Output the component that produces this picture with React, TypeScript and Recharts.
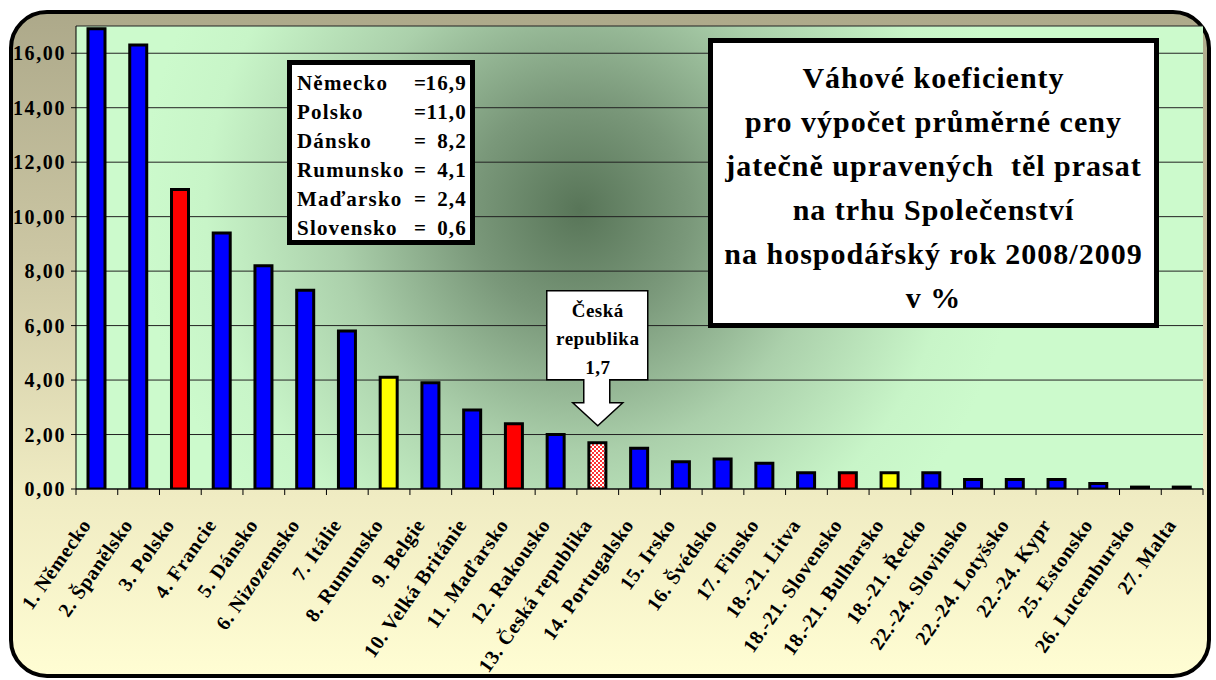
import { BarChart, Bar, Cell, XAxis, YAxis, CartesianGrid, ReferenceDot } from "recharts";

const countries = [
  "1. Německo", "2. Španělsko", "3. Polsko", "4. Francie", "5. Dánsko", "6. Nizozemsko",
  "7. Itálie", "8. Rumunsko", "9. Belgie", "10. Velká Británie", "11. Maďarsko", "12. Rakousko",
  "13. Česká republika", "14. Portugalsko", "15. Irsko", "16. Švédsko", "17. Finsko",
  "18.-21. Litva", "18.-21. Slovensko", "18.-21. Bulharsko", "18.-21. Řecko",
  "22.-24. Slovinsko", "22.-24. Lotyšsko", "22.-24. Kypr", "25. Estonsko",
  "26. Lucembursko", "27. Malta"
];
const weights = [
  16.9, 16.3, 11.0, 9.4, 8.2, 7.3, 5.8, 4.1, 3.9, 2.9, 2.4, 2.0, 1.7, 1.5, 1.0, 1.1, 0.95,
  0.6, 0.6, 0.6, 0.6, 0.35, 0.35, 0.35, 0.2, 0.07, 0.07
];
const yTicks = [0, 2, 4, 6, 8, 10, 12, 14, 16];

const boxNames = ["Německo", "Polsko", "Dánsko", "Rumunsko", "Maďarsko", "Slovensko"];
const boxValues = ["16,9", "11,0", "8,2", "4,1", "2,4", "0,6"];

const titleLines = [
  "Váhové koeficienty",
  "pro výpočet průměrné ceny",
  "jatečně upravených  těl prasat",
  "na trhu Společenství",
  "na hospodářský rok 2008/2009",
  "v %"
];
const calloutLines = ["Česká", "republika", "1,7"];
const czIndex = 12;

// bar colours: blue default, red/yellow highlights, pattern for CZ
const barColors = countries.map((c) => {
  if (c.includes("Polsko") || c.includes("Maďarsko") || c.includes("Slovensko")) return "#FF0000";
  if (c.includes("Rumunsko") || c.includes("Bulharsko")) return "#FFFF00";
  if (c.includes("Česká")) return "url(#czPattern)";
  return "#0000FF";
});

const data = countries.map((name, i) => ({ name, value: weights[i] }));

const FONT = '"Liberation Serif", "Times New Roman", serif';
const PLOT_LEFT = 76;
const PLOT_RIGHT = 1203;
const BAND = (PLOT_RIGHT - PLOT_LEFT) / countries.length;

function XTick(props: any) {
  const { x, y, payload } = props;
  const last = payload.value === countries[countries.length - 1];
  const ax = x - 5;
  const ay = y + 36;
  return (
    <g>
      <line x1={x - BAND / 2} x2={x - BAND / 2} y1={y} y2={y + 6} stroke="#000" />
      {last && <line x1={x + BAND / 2} x2={x + BAND / 2} y1={y} y2={y + 6} stroke="#000" />}
      <text
        x={ax}
        y={ay}
        transform={`rotate(-55 ${ax} ${ay})`}
        textAnchor="end"
        fontFamily={FONT}
        fontWeight="bold"
        fontSize={20}
        letterSpacing={0.6}
        fill="#000"
      >
        {payload.value}
      </text>
    </g>
  );
}

function Callout(props: any) {
  const { cx, cy } = props;
  const L = cx - 51, R = cx + 50, top = cy - 152, boxBottom = cy - 63;
  const sL = cx - 14, sR = cx + 12, headTop = cy - 40, tip = cy - 17;
  const d = `M${L},${top} H${R} V${boxBottom} H${sR} V${headTop} H${cx + 25} L${cx},${tip} L${cx - 25},${headTop} H${sL} V${boxBottom} H${L} Z`;
  const baselines = [cy - 126, cy - 98, cy - 69];
  return (
    <g>
      <path d={d} fill="#fff" stroke="#000" strokeWidth={1.5} />
      {calloutLines.map((t, i) => (
        <text key={t} x={cx} y={baselines[i]} textAnchor="middle" fontFamily={FONT} fontWeight="bold" fontSize={19} letterSpacing={0.5} fill="#000">
          {t}
        </text>
      ))}
    </g>
  );
}

export default function App() {
  return (
    <div style={{ position: "absolute", left: 0, top: 0, width: 1216, height: 680, overflow: "hidden" }}>
      <div
        style={{
          position: "absolute",
          left: 9,
          top: 10,
          width: 1202,
          height: 668,
          boxSizing: "border-box",
          border: "4px solid #000",
          borderRadius: 38,
          background: "linear-gradient(to bottom, #ADA98A 0%, #CBC6A3 36%, #EFEBC2 72%, #FFFDD3 100%)"
        }}
      />
      <div style={{ position: "absolute", left: 0, top: 0 }}>
        <BarChart
          width={1216}
          height={680}
          data={data}
          margin={{ top: 26, right: 1216 - PLOT_RIGHT, left: 0, bottom: 0 }}
          barSize={17}
        >
          <defs>
            <radialGradient id="plotBg" gradientUnits="userSpaceOnUse" cx={580} cy={210} r={440}>
              <stop offset="0%" stopColor="#587558" />
              <stop offset="25%" stopColor="#7A987A" />
              <stop offset="55%" stopColor="#ABD0AB" />
              <stop offset="85%" stopColor="#C8F5C8" />
              <stop offset="100%" stopColor="#CCFACC" />
            </radialGradient>
            <pattern id="czPattern" width="4" height="4" patternUnits="userSpaceOnUse">
              <rect width="4" height="4" fill="#FFFFFF" />
              <rect width="2" height="2" fill="#FF3333" />
              <rect x="2" y="2" width="2" height="2" fill="#FF3333" />
            </pattern>
          </defs>
          <CartesianGrid vertical={false} stroke="#222" fill="url(#plotBg)" fillOpacity={1} />
          <XAxis
            dataKey="name"
            interval={0}
            tickLine={false}
            tickSize={0}
            tickMargin={0}
            axisLine={{ stroke: "#000" }}
            height={191}
            tick={<XTick />}
          />
          <YAxis
            domain={[0, 17]}
            ticks={yTicks}
            allowDataOverflow
            width={PLOT_LEFT}
            tickSize={5}
            tickMargin={5}
            axisLine={{ stroke: "#000" }}
            tickLine={{ stroke: "#000" }}
            tickFormatter={(v: number) => v.toFixed(2).replace(".", ",")}
            tick={{ fontFamily: FONT, fontWeight: "bold", fontSize: 20, letterSpacing: 1.6, fill: "#000" }}
          />
          <Bar dataKey="value" stroke="#000" strokeWidth={3} isAnimationActive={false}>
            {data.map((d, i) => (
              <Cell key={d.name} fill={barColors[i]} />
            ))}
          </Bar>
          <ReferenceDot
            x={countries[czIndex]}
            y={weights[czIndex]}
            r={0}
            ifOverflow="visible"
            shape={(p: any) => <Callout {...p} />}
          />
        </BarChart>
      </div>

      <div
        style={{
          position: "absolute",
          left: 287,
          top: 60,
          width: 188,
          height: 185,
          boxSizing: "border-box",
          border: "5px solid #000",
          background: "#fff",
          paddingTop: 4,
          fontFamily: FONT,
          fontWeight: "bold",
          fontSize: 21,
          letterSpacing: 1.2,
          color: "#000"
        }}
      >
        {boxNames.map((n, i) => (
          <div key={n} style={{ position: "relative", height: 29, lineHeight: "29px" }}>
            <span style={{ position: "absolute", left: 5 }}>{n}</span>
            <span style={{ position: "absolute", left: 122 }}>=</span>
            <span style={{ position: "absolute", right: 3 }}>{boxValues[i]}</span>
          </div>
        ))}
      </div>

      <div
        style={{
          position: "absolute",
          left: 708,
          top: 38,
          width: 451,
          height: 290,
          boxSizing: "border-box",
          border: "5px solid #000",
          background: "#fff",
          paddingTop: 13,
          textAlign: "center",
          fontFamily: FONT,
          fontWeight: "bold",
          fontSize: 30,
          letterSpacing: 1,
          lineHeight: "44px",
          color: "#000",
          whiteSpace: "pre"
        }}
      >
        {titleLines.map((t) => (
          <div key={t}>{t}</div>
        ))}
      </div>
    </div>
  );
}
